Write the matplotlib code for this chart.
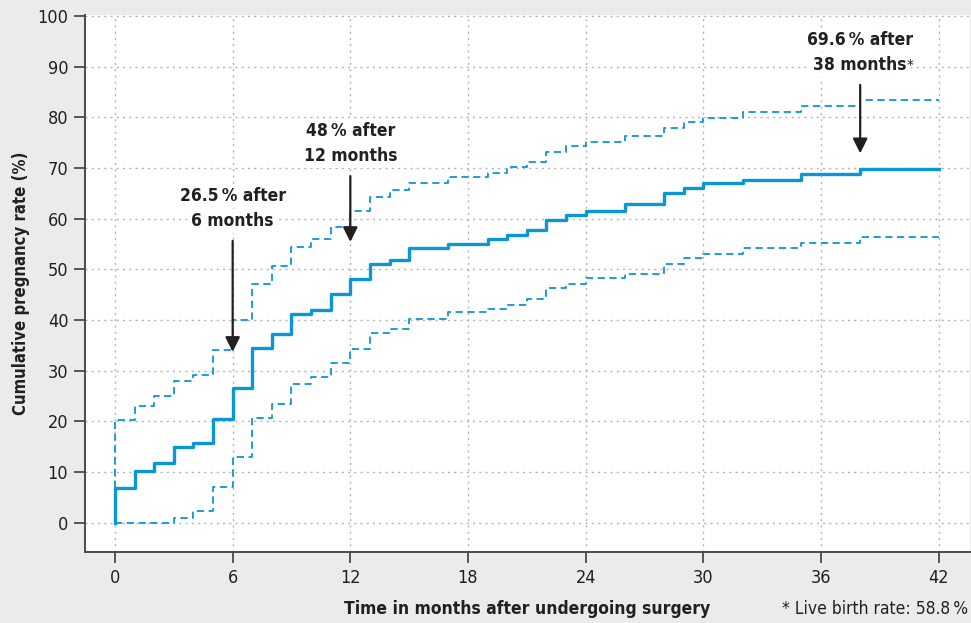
import matplotlib
matplotlib.use("Agg")
import matplotlib.pyplot as plt
import numpy as np

# Kaplan-Meier style cumulative pregnancy rate
months = [0, 1, 2, 3, 4, 5, 6, 7, 8, 9, 10, 11, 12, 13, 14, 15, 17, 19, 20,
          21, 22, 23, 24, 26, 28, 29, 30, 32, 35, 38]
rate = [6.8, 10.1, 11.7, 15.0, 15.7, 20.5, 26.5, 34.5, 37.3, 41.2, 41.9, 45.2,
        48.0, 51.1, 51.9, 54.2, 55.0, 55.9, 56.8, 57.8, 59.8, 60.8, 61.5, 62.9,
        65.0, 66.0, 67.0, 67.7, 68.8, 69.8]
upper = [20.3, 23.0, 25.0, 27.9, 29.1, 34.0, 39.9, 47.2, 50.6, 54.5, 55.9, 58.4,
         61.5, 64.3, 65.6, 67.1, 68.2, 69.1, 70.2, 71.2, 73.2, 74.3, 75.2, 76.3,
         77.8, 79.1, 79.9, 81.0, 82.3, 83.5]
lower = [0.0, 0.0, 0.0, 1.0, 2.2, 7.0, 13.0, 20.7, 23.5, 27.4, 28.7, 31.5,
         34.3, 37.5, 38.3, 40.1, 41.6, 42.2, 43.0, 44.2, 46.3, 47.2, 48.3, 49.1,
         51.0, 52.2, 53.1, 54.3, 55.1, 56.3]
end_month = 42

# annotations: (month, tail y, tip y, first line, second line)
notes = [
    (6, 55.6, 33.7, "26.5\u2009% after", "6 months"),
    (12, 68.4, 55.4, "48\u2009% after", "12 months"),
    (38, 86.4, 72.9, "69.6\u2009% after", "38 months"),
]

blue = "#0b96d6"
dark = "#231f20"

plt.rcParams["font.family"] = ["DejaVu Sans"]
plt.rcParams["font.stretch"] = "condensed"

fig = plt.figure(figsize=(9.71, 6.23), dpi=100, facecolor="#ebebed")
ax = fig.add_axes([85 / 971, (623 - 552) / 623, (970 - 85) / 971, (552 - 15) / 623])
ax.set_facecolor("white")

def stairs(vals):
    x = np.r_[0, months, end_month]
    y = np.r_[0, vals, vals[-1]]
    return x, y

x, y = stairs(rate)
ax.step(x, y, where="post", color=blue, lw=2.4, zorder=3)
x, y = stairs(upper)
ax.step(x, y, where="post", color=blue, lw=1.3, ls=(0, (4, 2.5)), zorder=3)
x, y = stairs(lower)
ax.step(x, y, where="post", color=blue, lw=1.3, ls=(0, (4, 2.5)), zorder=3)

ax.set_xlim(-1.53, 43.6)
ax.set_ylim(-5.8, 100.2)
ax.set_xticks(range(0, 43, 6))
ax.set_yticks(range(0, 101, 10))
ax.grid(True, color="#b4b4b4", ls=(0, (1.5, 3)), lw=1.0)
ax.set_axisbelow(True)

for side in ["top", "right"]:
    ax.spines[side].set_visible(False)
for side in ["left", "bottom"]:
    ax.spines[side].set_color("#4a4a4a")
    ax.spines[side].set_linewidth(1.4)
ax.tick_params(length=8, width=1.3, color="#4a4a4a", labelsize=13,
               labelcolor=dark, pad=4)

ax.set_ylabel("Cumulative pregnancy rate (%)", fontsize=12, fontweight="bold",
              color=dark, labelpad=5)
fig.text(527 / 971, 1 - 609 / 623, "Time in months after undergoing surgery",
         ha="center", va="center", fontsize=12.5, fontweight="bold", color=dark)
fig.text(968 / 971, 1 - 609 / 623, "* Live birth rate: 58.8\u2009%", ha="right",
         va="center", fontsize=12.5, color=dark)

last_line = None
for m, y0, y1, line1, line2 in notes:
    ax.annotate("", xy=(m, y1), xytext=(m, y0),
                arrowprops=dict(arrowstyle="-|>", color=dark, lw=1.6,
                                mutation_scale=22, shrinkA=0, shrinkB=0),
                zorder=4)
    style = dict(ha="center", va="center", fontsize=12.5, fontweight="bold",
                 color=dark, zorder=5, bbox=dict(fc="white", ec="none", pad=2))
    ax.text(m, y0 + 3.95, line2, **style)
    ax.text(m, y0 + 8.9, line1, **style)
    if m == 38:
        last_line = ax.texts[-2]

# superscript asterisk on the last note
ax.annotate("*", xy=(1, 1), xycoords=last_line, xytext=(0, -2),
            textcoords="offset points", fontsize=11, color=dark,
            ha="left", va="top", zorder=6)

fig.savefig("out.png", dpi=100, facecolor=fig.get_facecolor())
